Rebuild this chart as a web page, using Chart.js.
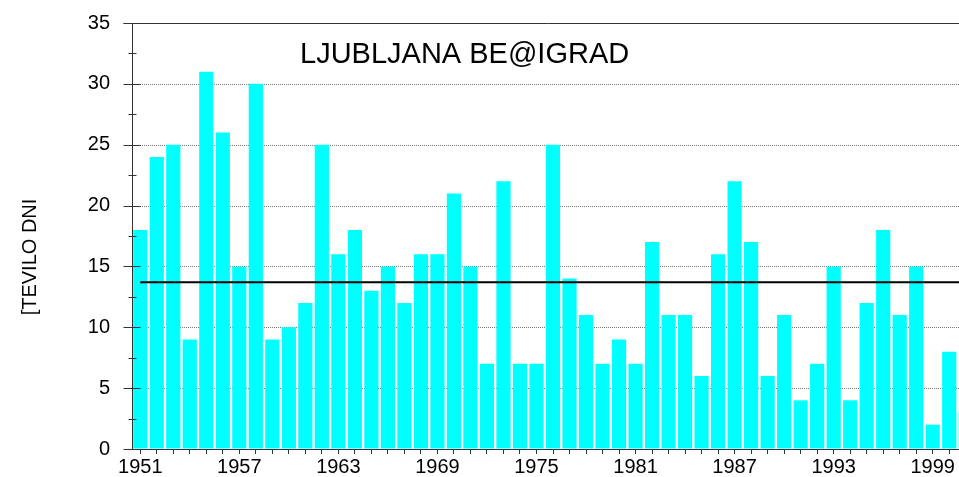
<!DOCTYPE html>
<html>
<head>
<meta charset="utf-8">
<script src="https://cdn.jsdelivr.net/npm/chart.js@4/dist/chart.umd.min.js"></script>
<style>
  html, body { margin: 0; padding: 0; background: #fff; overflow: hidden; }
  #wrap { width: 974px; height: 477px; }
</style>
</head>
<body>
<div id="wrap"><canvas id="chart" width="974" height="477"></canvas></div>
<script>
// Ljubljana Bežigrad: number of days per year
const years = [];
for (let y = 1951; y <= 2001; y++) years.push(String(y));

const days = [
    18, 24, 25, 9, 31, 26, 15, 30, 9, 10,
    12, 25, 16, 18, 13, 15, 12, 16, 16, 21,
    15, 7, 22, 7, 7, 25, 14, 11, 7, 9,
    7, 17, 11, 11, 6, 16, 22, 17, 6, 11,
    4, 7, 15, 4, 12, 18, 11, 15, 2, 8,
    3
];

const averageDays = 13.7;
const yTicks = [0, 5, 10, 15, 20, 25, 30, 35];
const shownYears = ['1951', '1957', '1963', '1969', '1975', '1981', '1987', '1993', '1999'];

const chartTitle = 'LJUBLJANA BE@IGRAD';
const yTitle = '[TEVILO DNI';

const FONT = '"Liberation Sans", Arial, sans-serif';
const AXIS_COLOR = '#333';

const decorPlugin = {
    id: 'decor',
    beforeDatasetsDraw(chart) {
        const { ctx, chartArea, scales } = chart;
        ctx.save();
        ctx.strokeStyle = '#7a7a7a';
        ctx.lineWidth = 1;
        ctx.setLineDash([1, 1]);
        yTicks.forEach(v => {
            if (v === 0 || v === 35) return;
            const y = Math.round(scales.y.getPixelForValue(v)) + 0.5;
            ctx.beginPath();
            ctx.moveTo(chartArea.left, y);
            ctx.lineTo(chartArea.right, y);
            ctx.stroke();
        });
        ctx.restore();
    },
    afterDraw(chart) {
        const { ctx, chartArea, scales } = chart;
        const ax = Math.round(chartArea.left) + 0.5;
        ctx.save();
        ctx.strokeStyle = AXIS_COLOR;
        ctx.lineWidth = 1;
        // top frame line
        const top = Math.round(scales.y.getPixelForValue(35)) + 0.5;
        ctx.beginPath();
        ctx.moveTo(ax - 9, top);
        ctx.lineTo(chartArea.right, top);
        ctx.stroke();
        // major and minor y ticks crossing the axis
        for (let v = 0; v <= 35; v += 2.5) {
            const y = Math.round(scales.y.getPixelForValue(v)) + 0.5;
            const major = v % 5 === 0;
            ctx.beginPath();
            ctx.moveTo(ax - (major ? 9 : 4), y);
            ctx.lineTo(ax + (major ? 8 : 4), y);
            ctx.stroke();
        }
        // title inside plot
        ctx.fillStyle = '#000';
        ctx.font = '29px ' + FONT;
        ctx.textAlign = 'left';
        ctx.textBaseline = 'middle';
        ctx.fillText(chartTitle, chartArea.left + 168, chartArea.top + 32);
        // y axis title
        ctx.font = '20px ' + FONT;
        ctx.translate(30, 257);
        ctx.rotate(-Math.PI / 2);
        ctx.textAlign = 'center';
        ctx.fillText(yTitle, 0, 0);
        ctx.restore();
    }
};

new Chart(document.getElementById('chart'), {
    data: {
        labels: years,
        datasets: [
            {
                type: 'line',
                data: years.map(() => averageDays),
                borderColor: '#000',
                borderWidth: 2,
                pointRadius: 0,
                fill: false,
                order: 0
            },
            {
                type: 'bar',
                data: days,
                backgroundColor: '#00FFFF',
                borderWidth: 0,
                barPercentage: 0.86,
                categoryPercentage: 1,
                order: 1
            }
        ]
    },
    options: {
        responsive: false,
        animation: false,
        devicePixelRatio: 1,
        layout: { padding: { top: 23, left: 0, right: 0, bottom: 0 } },
        plugins: {
            legend: { display: false },
            tooltip: { enabled: false },
            title: { display: false }
        },
        scales: {
            x: {
                type: 'category',
                offset: true,
                grid: {
                    display: true,
                    drawOnChartArea: false,
                    drawTicks: true,
                    tickLength: 5,
                    offset: false,
                    color: AXIS_COLOR
                },
                border: { display: true, color: AXIS_COLOR, width: 1 },
                ticks: {
                    autoSkip: false,
                    maxRotation: 0,
                    padding: 1,
                    color: '#000',
                    font: { family: FONT, size: 20 },
                    callback(value) {
                        const label = this.getLabelForValue(value);
                        return shownYears.includes(label) ? label : '';
                    }
                },
                afterFit(scale) { scale.height = 28; }
            },
            y: {
                min: 0,
                max: 35,
                // invisible tick marks only set the gap between labels and axis
                grid: {
                    display: true,
                    drawOnChartArea: false,
                    drawTicks: true,
                    tickLength: 22,
                    color: 'rgba(0,0,0,0)'
                },
                border: { display: true, color: AXIS_COLOR, width: 1 },
                ticks: {
                    stepSize: 5,
                    padding: 0,
                    color: '#000',
                    font: { family: FONT, size: 20 }
                },
                afterFit(scale) { scale.width = 132; }
            }
        }
    },
    plugins: [decorPlugin]
});
</script>
</body>
</html>
